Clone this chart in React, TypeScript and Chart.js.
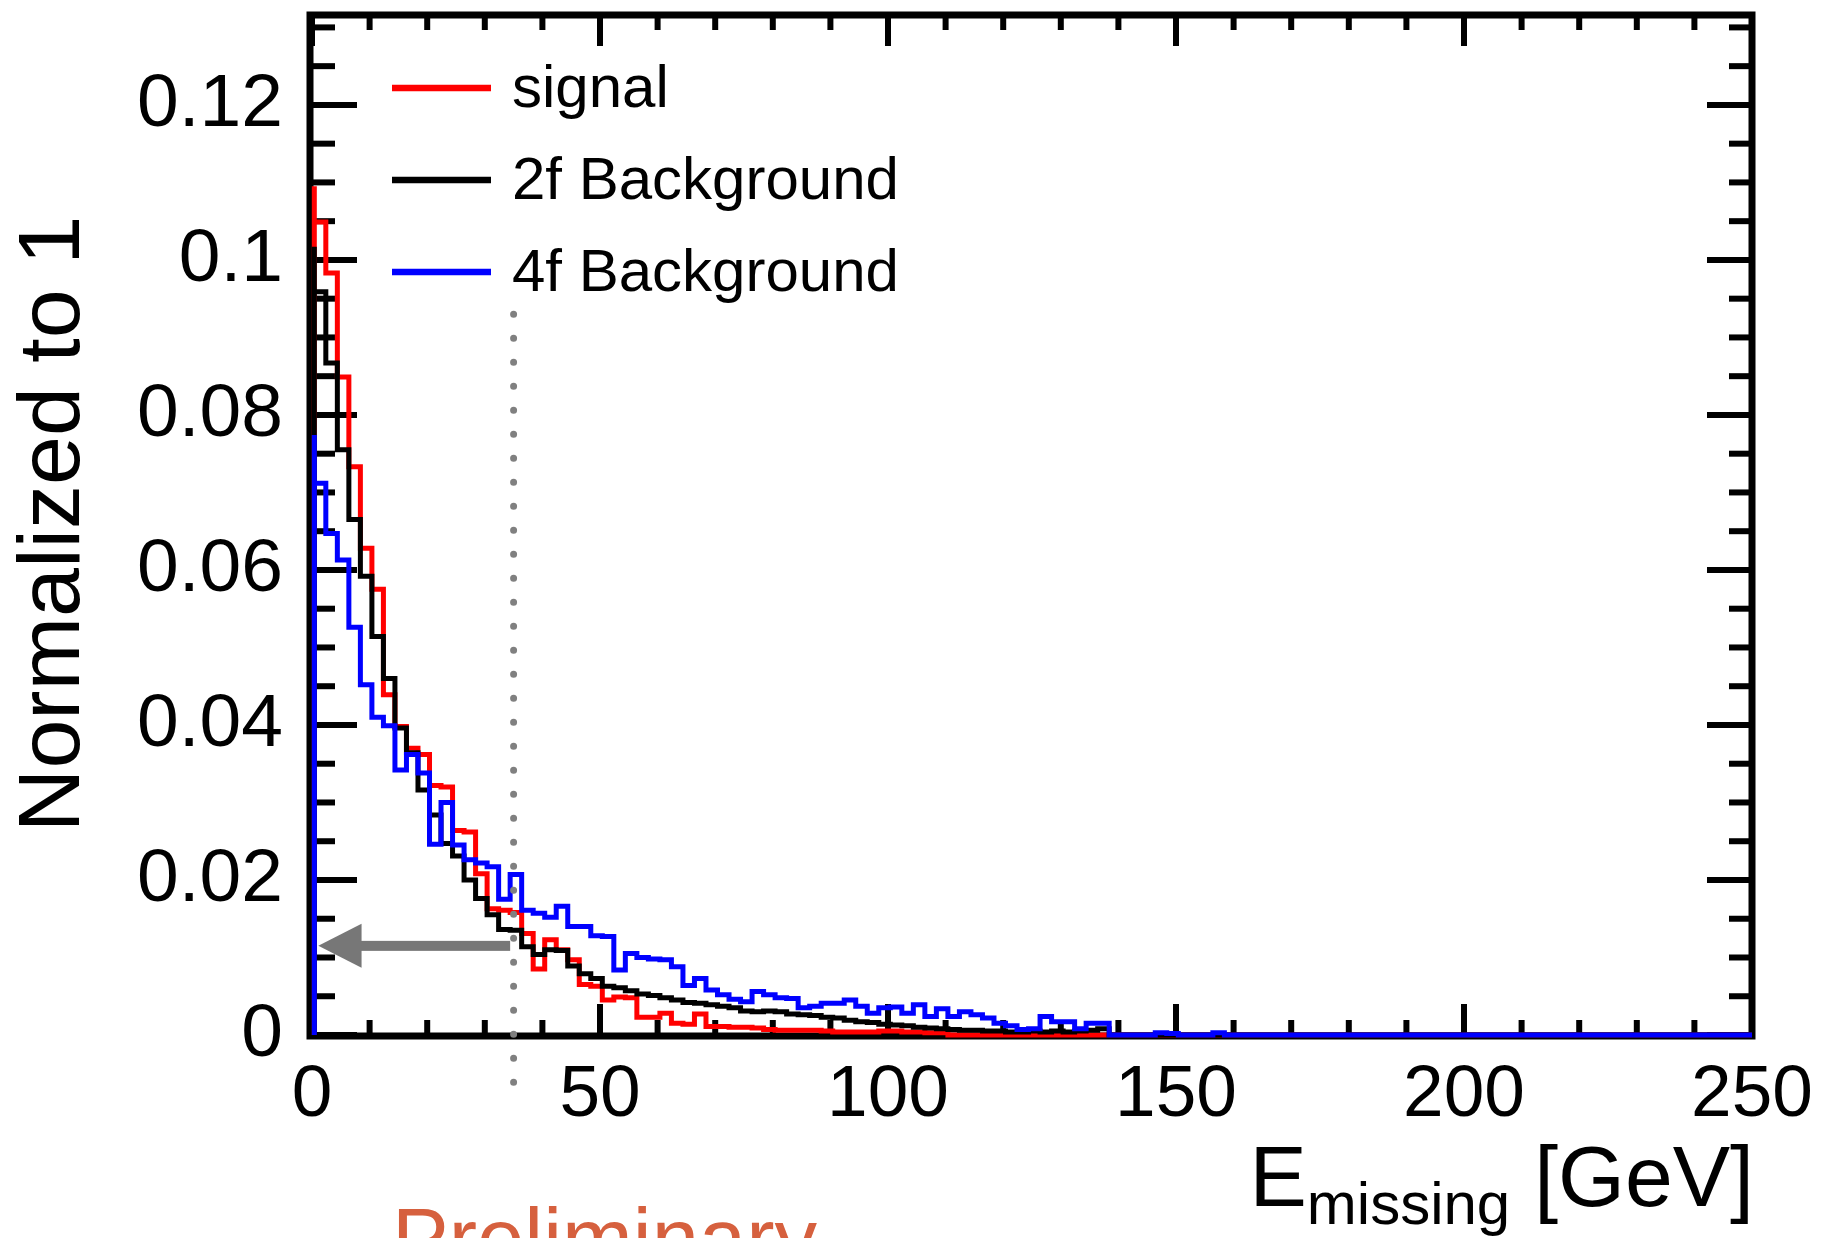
import React, { useEffect, useRef } from "react";
import { Chart, registerables } from "chart.js";

Chart.register(...registerables);

const W = 1826;
const H = 1238;
const FONT = '"Liberation Sans", Arial, Helvetica, sans-serif';

// Histogram binning (GeV)
const BIN_WIDTH = 2;
const BIN_OFFSET = 0.4; // small horizontal offset of the drawn histograms seen in the picture
const X_MIN = 0;
const X_MAX = 250;
const Y_MIN = 0;
const Y_MAX = 0.1316;

// signal, 2 GeV bins from 0 to 250 GeV
const signal: number[] = [
  0.1095, 0.1049, 0.0983, 0.0849, 0.0733, 0.0628, 0.0575, 0.0439, 0.0398, 0.0370,
  0.0362, 0.0322, 0.0320, 0.0264, 0.0262, 0.0208, 0.0163, 0.0161, 0.0158, 0.0131,
  0.0085, 0.0123, 0.0110, 0.0097, 0.0065, 0.0063, 0.0045, 0.0049, 0.0048, 0.0023,
  0.0023, 0.0028, 0.0015, 0.0014, 0.0027, 0.0011, 0.0011, 0.0010, 0.0010, 0.0009,
  0.0007, 0.0006, 0.0006, 0.0006, 0.0006, 0.0005, 0.0004, 0.0004, 0.0004, 0.0004,
  0.0005, 0.0005, 0.0004, 0.0004, 0.0003, 0.0003, 0, 0, 0, 0,
  0, 0, 0, 0, 0, 0, 0, 0, 0, 0,
  0, 0, 0, 0, 0, 0, 0, 0, 0, 0,
  0, 0, 0, 0, 0, 0, 0, 0, 0, 0,
  0, 0, 0, 0, 0, 0, 0, 0, 0, 0,
  0, 0, 0, 0, 0, 0, 0, 0, 0, 0,
  0, 0, 0, 0, 0, 0, 0, 0, 0, 0,
  0, 0, 0, 0, 0,
];

// 2f background
const bkg2f: number[] = [
  0.1017, 0.0959, 0.0867, 0.0755, 0.0665, 0.0592, 0.0514, 0.0460, 0.0396, 0.0364,
  0.0316, 0.0284, 0.0247, 0.0231, 0.0200, 0.0176, 0.0155, 0.0136, 0.0135, 0.0114,
  0.0104, 0.0110, 0.0109, 0.0089, 0.0079, 0.0073, 0.0063, 0.0061, 0.0057, 0.0053,
  0.0051, 0.0048, 0.0045, 0.0042, 0.0041, 0.0039, 0.0037, 0.0035, 0.0031, 0.0030,
  0.0031, 0.0030, 0.0027, 0.0026, 0.0025, 0.0023, 0.0022, 0.0019, 0.0017, 0.0016,
  0.0014, 0.0013, 0.0012, 0.0010, 0.0009, 0.0008, 0.0007, 0.0006, 0.0006, 0.0005,
  0.0005, 0.0004, 0.0004, 0.0005, 0.0004, 0.0005, 0.0004, 0.0005, 0.0006, 0.0008,
  0, 0, 0, 0, 0, 0, 0, 0, 0, 0,
  0, 0, 0, 0, 0, 0, 0, 0, 0, 0,
  0, 0, 0, 0, 0, 0, 0, 0, 0, 0,
  0, 0, 0, 0, 0, 0, 0, 0, 0, 0,
  0, 0, 0, 0, 0, 0, 0, 0, 0, 0,
  0, 0, 0, 0, 0,
];

// 4f background
const bkg4f: number[] = [
  0.0774, 0.0712, 0.0647, 0.0613, 0.0526, 0.0452, 0.0410, 0.0399, 0.0342, 0.0362,
  0.0338, 0.0246, 0.0300, 0.0245, 0.0226, 0.0222, 0.0217, 0.0175, 0.0207, 0.0161,
  0.0157, 0.0152, 0.0166, 0.0140, 0.0140, 0.0128, 0.0127, 0.0084, 0.0105, 0.0100,
  0.0098, 0.0097, 0.0088, 0.0064, 0.0073, 0.0058, 0.0052, 0.0046, 0.0043, 0.0056,
  0.0052, 0.0048, 0.0047, 0.0035, 0.0037, 0.0041, 0.0041, 0.0045, 0.0037, 0.0028,
  0.0035, 0.0036, 0.0028, 0.0039, 0.0024, 0.0034, 0.0024, 0.0030, 0.0026, 0.0022,
  0.0015, 0.0012, 0.0007, 0.0008, 0.0024, 0.0017, 0.0017, 0.0008, 0.0015, 0.0015,
  0, 0, 0, 0, 0.0003, 0.0002, 0, 0, 0, 0.0003,
  0, 0, 0, 0, 0, 0, 0, 0, 0, 0,
  0, 0, 0, 0, 0, 0, 0, 0, 0, 0,
  0, 0, 0, 0, 0, 0, 0, 0, 0, 0,
  0, 0, 0, 0, 0, 0, 0, 0, 0, 0,
  0, 0, 0, 0, 0,
];

const seriesNames = ["signal", "2f Background", "4f Background"];
const seriesColors = ["#ff0000", "#000000", "#0000ff"];

const xTickLabels = [0, 50, 100, 150, 200, 250];
const xMinorTicks = [10, 20, 30, 40, 60, 70, 80, 90, 110, 120, 130, 140, 160, 170, 180, 190, 210, 220, 230, 240];
const yTickLabels = [0, 0.02, 0.04, 0.06, 0.08, 0.1, 0.12];
const yMinorTicks = [
  0.005, 0.01, 0.015, 0.025, 0.03, 0.035, 0.045, 0.05, 0.055, 0.065, 0.07, 0.075,
  0.085, 0.09, 0.095, 0.105, 0.11, 0.115, 0.125, 0.13,
];

// Cut annotation (GeV / normalized units)
const CUT_VALUE = 35;
const CUT_LINE_TOP = 0.093;
const CUT_LINE_BOTTOM = -0.0062;
const ARROW_Y = 0.0115;
const ARROW_TIP_X = 1.1;
const ARROW_HEAD_BASE_X = 8.6;
const ARROW_TAIL_X = 34.4;

const X_TITLE_MAIN = "E";
const X_TITLE_SUB = "missing";
const X_TITLE_UNIT = " [GeV]";
const Y_TITLE = "Normalized to 1";
const WATERMARK = "Preliminary";

function histPoints(values: number[]) {
  const start = X_MIN + BIN_OFFSET;
  const pts: { x: number; y: number }[] = [{ x: start, y: 0 }];
  values.forEach((v, i) => pts.push({ x: start + i * BIN_WIDTH, y: v }));
  pts.push({ x: X_MAX, y: values[values.length - 1] });
  return pts;
}

const decorPlugin = {
  id: "decor",
  beforeDatasetsDraw(chart: any) {
    const { ctx, chartArea } = chart;
    const { left, right, top, bottom } = chartArea;
    const xs = chart.scales.x;
    const ys = chart.scales.y;
    const seg = (x1: number, y1: number, x2: number, y2: number) => {
      ctx.beginPath();
      ctx.moveTo(x1, y1);
      ctx.lineTo(x2, y2);
      ctx.stroke();
    };
    ctx.save();
    ctx.strokeStyle = "#000";
    ctx.lineWidth = 7;
    ctx.strokeRect(left - 2, top, right - left + 2, bottom - top + 1);
    ctx.lineWidth = 6;
    ctx.lineCap = "butt";
    const xt = (v: number, len: number) => {
      const p = xs.getPixelForValue(v);
      seg(p, bottom, p, bottom - len);
      seg(p, top, p, top + len);
    };
    xTickLabels.forEach((v) => xt(v, 31));
    xMinorTicks.forEach((v) => xt(v, 15));
    const yt = (v: number, len: number) => {
      const p = ys.getPixelForValue(v);
      seg(left - 2, p, left + len, p);
      seg(right, p, right - len, p);
    };
    yTickLabels.forEach((v) => yt(v, 45));
    yMinorTicks.forEach((v) => yt(v, 23));
    ctx.restore();
  },
  afterDatasetsDraw(chart: any) {
    const { ctx } = chart;
    const xs = chart.scales.x;
    const ys = chart.scales.y;
    const seg = (x1: number, y1: number, x2: number, y2: number) => {
      ctx.beginPath();
      ctx.moveTo(x1, y1);
      ctx.lineTo(x2, y2);
      ctx.stroke();
    };
    ctx.save();
    // dotted cut line
    const cx = xs.getPixelForValue(CUT_VALUE);
    ctx.strokeStyle = "#808080";
    ctx.lineWidth = 7;
    ctx.lineCap = "round";
    ctx.setLineDash([0, 24]);
    seg(cx, ys.getPixelForValue(CUT_LINE_TOP), cx, ys.getPixelForValue(CUT_LINE_BOTTOM));
    ctx.setLineDash([]);

    // arrow
    const ay = ys.getPixelForValue(ARROW_Y);
    const xTip = xs.getPixelForValue(ARROW_TIP_X);
    const xBase = xs.getPixelForValue(ARROW_HEAD_BASE_X);
    const xEnd = xs.getPixelForValue(ARROW_TAIL_X);
    ctx.fillStyle = "#777777";
    ctx.fillRect(xBase - 1, ay - 5, xEnd - xBase + 1, 10);
    ctx.beginPath();
    ctx.moveTo(xTip, ay);
    ctx.lineTo(xBase, ay - 22);
    ctx.lineTo(xBase, ay + 22);
    ctx.closePath();
    ctx.fill();

    // legend
    ctx.lineCap = "butt";
    seriesNames.forEach((name, i) => {
      const ly = 88 + i * 92;
      ctx.strokeStyle = seriesColors[i];
      ctx.lineWidth = 6.5;
      seg(392, ly, 491, ly);
      ctx.fillStyle = "#000";
      ctx.font = `60px ${FONT}`;
      ctx.textAlign = "left";
      ctx.textBaseline = "alphabetic";
      ctx.fillText(name, 512, ly + 19);
    });

    // y title
    ctx.save();
    ctx.translate(55, 524);
    ctx.rotate(-Math.PI / 2);
    ctx.font = `88px ${FONT}`;
    ctx.textAlign = "center";
    ctx.textBaseline = "middle";
    ctx.fillStyle = "#000";
    ctx.fillText(Y_TITLE, 0, 0);
    ctx.restore();

    // x title
    ctx.fillStyle = "#000";
    ctx.textAlign = "left";
    ctx.textBaseline = "alphabetic";
    ctx.font = `86px ${FONT}`;
    const wE = ctx.measureText(X_TITLE_MAIN).width;
    const wU = ctx.measureText(X_TITLE_UNIT).width;
    ctx.font = `60px ${FONT}`;
    const wM = ctx.measureText(X_TITLE_SUB).width;
    const x0 = 1754 - (wE + wM + wU);
    ctx.font = `86px ${FONT}`;
    ctx.fillText(X_TITLE_MAIN, x0, 1206);
    ctx.fillText(X_TITLE_UNIT, x0 + wE + wM, 1206);
    ctx.font = `60px ${FONT}`;
    ctx.fillText(X_TITLE_SUB, x0 + wE, 1224);

    // watermark
    ctx.fillStyle = "#d6603e";
    ctx.font = `85px ${FONT}`;
    ctx.fillText(WATERMARK, 392, 1268);
    ctx.restore();
  },
};

export default function App() {
  const ref = useRef<HTMLCanvasElement>(null);
  useEffect(() => {
    const canvas = ref.current!;
    const mk = (label: string, values: number[], color: string, order: number) => ({
      label,
      data: histPoints(values),
      borderColor: color,
      backgroundColor: color,
      borderWidth: 5,
      pointRadius: 0,
      fill: false,
      stepped: "after" as const,
      tension: 0,
      borderJoinStyle: "miter" as const,
      borderCapStyle: "butt" as const,
      order,
      clip: 4,
    });
    const chart = new Chart(canvas, {
      type: "line",
      data: {
        datasets: [
          mk(seriesNames[0], signal, seriesColors[0], 3),
          mk(seriesNames[1], bkg2f, seriesColors[1], 2),
          mk(seriesNames[2], bkg4f, seriesColors[2], 1),
        ],
      },
      options: {
        responsive: false,
        animation: false,
        devicePixelRatio: 1,
        layout: { padding: { left: 0, top: 15, right: 74, bottom: 0 } },
        plugins: {
          legend: { display: false },
          tooltip: { enabled: false },
          title: { display: false },
        },
        scales: {
          x: {
            type: "linear",
            min: X_MIN,
            max: X_MAX,
            grid: { display: false, drawTicks: false },
            border: { display: false },
            ticks: {
              font: { family: FONT, size: 73 },
              color: "#000",
              padding: 17,
              autoSkip: false,
              maxRotation: 0,
              callback: (v: any) => String(v),
            },
            afterBuildTicks: (s: any) => {
              s.ticks = xTickLabels.map((v) => ({ value: v }));
            },
            afterFit: (s: any) => {
              s.height = H - 1035;
              s.paddingLeft = 0;
              s.paddingRight = 0;
            },
          },
          y: {
            type: "linear",
            min: Y_MIN,
            max: Y_MAX,
            grid: { display: false, drawTicks: false },
            border: { display: false },
            ticks: {
              font: { family: FONT, size: 75 },
              color: "#000",
              padding: 29,
              autoSkip: false,
              callback: (v: any) => (Number(v) === 0 ? "0" : String(v)),
            },
            afterBuildTicks: (s: any) => {
              s.ticks = yTickLabels.map((v) => ({ value: v }));
            },
            afterFit: (s: any) => {
              s.width = 312;
              s.paddingTop = 0;
              s.paddingBottom = 0;
            },
          },
        },
      } as any,
      plugins: [decorPlugin],
    });
    return () => chart.destroy();
  }, []);
  return (
    <div style={{ position: "fixed", left: 0, top: 0, width: W, height: H, background: "#fff", overflow: "hidden" }}>
      <canvas ref={ref} width={W} height={H} style={{ display: "block", width: W, height: H }} />
    </div>
  );
}
